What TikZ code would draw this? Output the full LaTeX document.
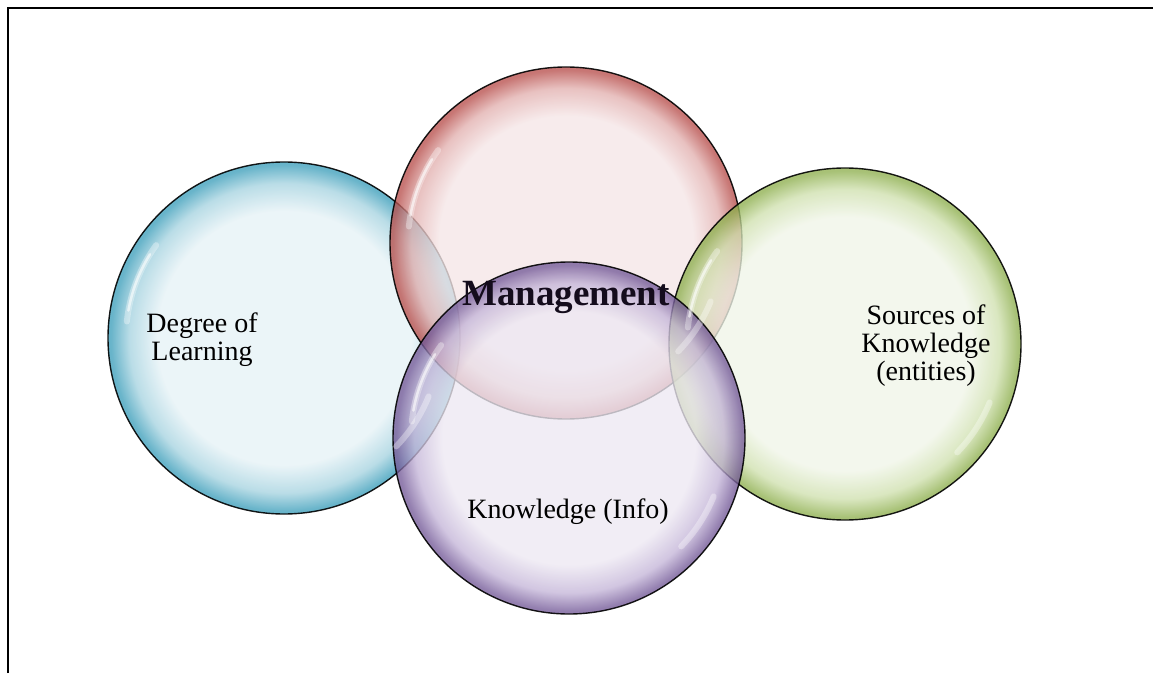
\documentclass[tikz,border=0pt]{standalone}
\usepackage{fontspec}
\setmainfont{Liberation Serif}
\definecolor{bpale}{HTML}{E6F2F6}\definecolor{bmid}{HTML}{A6D3E0}\definecolor{brim}{HTML}{3E9FBB}
\definecolor{rpale}{HTML}{F5E6E7}\definecolor{rmid}{HTML}{E2B0AF}\definecolor{rrim}{HTML}{B8504D}
\definecolor{gpale}{HTML}{F0F5E8}\definecolor{gmid}{HTML}{CFE0AE}\definecolor{grim}{HTML}{8FB050}
\definecolor{ppale}{HTML}{EDE8F2}\definecolor{pmid}{HTML}{C4B5D8}\definecolor{prim}{HTML}{745A98}
\definecolor{mgtext}{HTML}{140C1C}
\pgfdeclareradialshading{bubbleB}{\pgfpointorigin}{color(0bp)=(bpale); color(18bp)=(bpale); color(22bp)=(bmid); color(24.6bp)=(brim); color(50bp)=(brim)}
\pgfdeclareradialshading{bubbleR}{\pgfpointorigin}{color(0bp)=(rpale); color(18bp)=(rpale); color(22bp)=(rmid); color(24.6bp)=(rrim); color(50bp)=(rrim)}
\pgfdeclareradialshading{bubbleG}{\pgfpointorigin}{color(0bp)=(gpale); color(18bp)=(gpale); color(22bp)=(gmid); color(24.6bp)=(grim); color(50bp)=(grim)}
\pgfdeclareradialshading{bubbleP}{\pgfpointorigin}{color(0bp)=(ppale); color(18bp)=(ppale); color(22bp)=(pmid); color(24.6bp)=(prim); color(50bp)=(prim)}
\tikzset{
  bubble/.style={circle, minimum size=352pt, inner sep=0pt, fill opacity=0.78, draw=black, draw opacity=0.9, line width=1.4pt},
  gloss/.style={white, line width=6pt, opacity=0.35, line cap=round},
  glossthin/.style={white, line width=2.5pt, opacity=0.6, line cap=round},
  lbl/.style={font=\fontsize{28}{28}\selectfont, align=center, inner sep=0pt, text=black},
  frameline/.style={line width=2.5pt, black}
}
\begin{document}
\begin{tikzpicture}[x=1pt,y=1pt]
\useasboundingbox (0,0) rectangle (1153,673);
\coordinate (ftl) at (8,665);
\coordinate (ftr) at (1153,665);
\coordinate (fbl) at (8,0);
\draw[frameline] (fbl) -- (ftl) -- (ftr);
% bubbles
\node[bubble, shading=bubbleB, shade] (blue) at (284,335) {};
\node[bubble, shading=bubbleR, shade] (red) at (566,430) {};
\node[bubble, shading=bubbleG, shade] (green) at (845,329) {};
\node[bubble, shading=bubbleP, shade] (purple) at (569,235) {};
% highlights
\foreach \c in {blue,red,green,purple}{
  \draw[gloss] (\c.center) ++(144:158pt) arc[start angle=144,end angle=174,radius=158pt];
  \draw[glossthin] (\c.center) ++(148:158pt) arc[start angle=148,end angle=170,radius=158pt];
  \draw[gloss] (\c.center) ++(-22:156pt) arc[start angle=-22,end angle=-44,radius=156pt];
}
% labels
\node[lbl, font=\fontsize{37}{37}\selectfont\bfseries, text=mgtext, anchor=base] (mgmt) at (566,368) {Management};
\node[lbl, anchor=base] (deg) at (202,313) {Degree of\\Learning};
\node[lbl, anchor=base] (src) at (926,293) {Sources of\\Knowledge\\(entities)};
\node[lbl, anchor=base] (kno) at (568,155) {Knowledge (Info)};
\end{tikzpicture}
\end{document}
